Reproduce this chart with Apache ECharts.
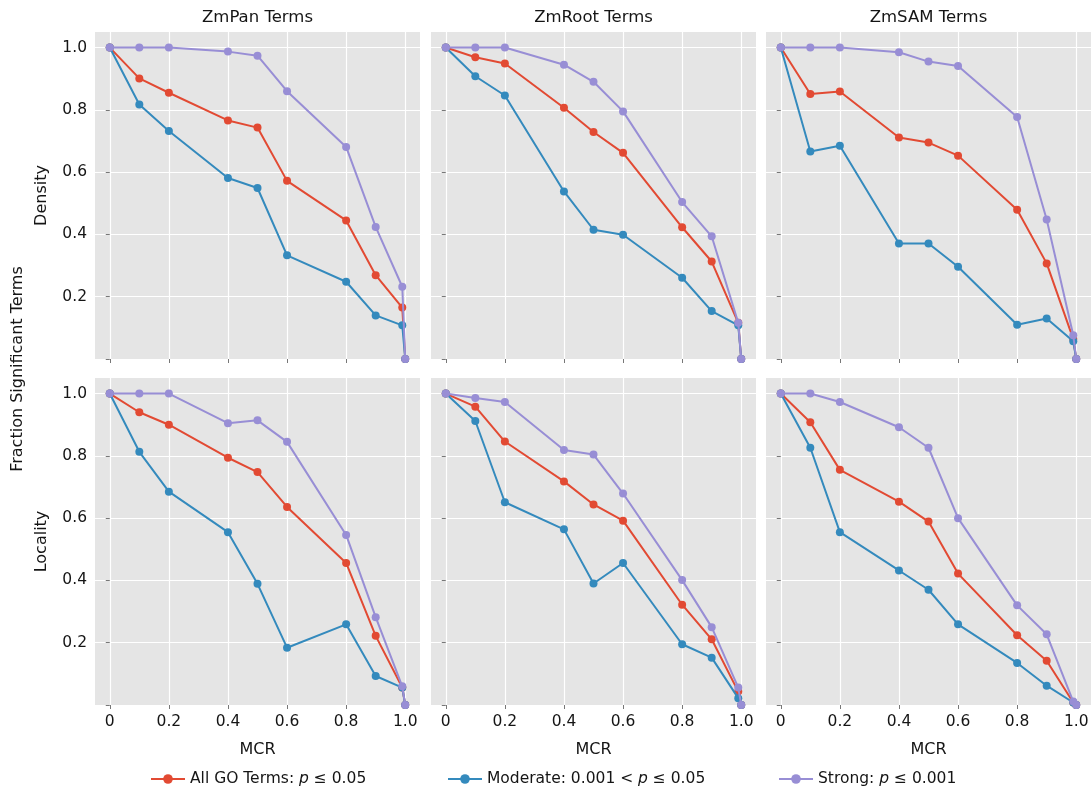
<!DOCTYPE html>
<html>
<head>
<meta charset="utf-8">
<title>Fraction Significant Terms vs MCR</title>
<script src="https://cdn.jsdelivr.net/npm/echarts@6/dist/echarts.min.js"></script>
<style>
  html, body { margin: 0; padding: 0; background: #fff; }
  #chart { width: 1092px; height: 788px; }
</style>
</head>
<body>
<div id="chart"></div>
<script>
// x values (MCR)
var mcr = [0, 0.1, 0.2, 0.4, 0.5, 0.6, 0.8, 0.9, 0.99, 1.0];
var xTicks = [0, 0.2, 0.4, 0.6, 0.8, 1.0];
var yTicks = [0, 0.2, 0.4, 0.6, 0.8, 1.0];

var columnTitles = ['ZmPan Terms', 'ZmRoot Terms', 'ZmSAM Terms'];
var rowTitles = ['Density', 'Locality'];
var seriesNames = ['All GO Terms', 'Moderate', 'Strong'];

// Density row
var panDensityAll      = [1.0, 0.901, 0.855, 0.766, 0.743, 0.572, 0.445, 0.269, 0.165, 0];
var panDensityModerate = [1.0, 0.817, 0.732, 0.581, 0.549, 0.333, 0.248, 0.140, 0.108, 0];
var panDensityStrong   = [1.0, 1.0, 1.0, 0.987, 0.974, 0.860, 0.681, 0.424, 0.232, 0];

var rootDensityAll      = [1.0, 0.969, 0.949, 0.807, 0.729, 0.662, 0.423, 0.313, 0.116, 0];
var rootDensityModerate = [1.0, 0.908, 0.846, 0.538, 0.415, 0.399, 0.261, 0.154, 0.108, 0];
var rootDensityStrong   = [1.0, 1.0, 1.0, 0.945, 0.890, 0.795, 0.504, 0.394, 0.116, 0];

var samDensityAll      = [1.0, 0.851, 0.859, 0.711, 0.695, 0.653, 0.479, 0.307, 0.064, 0];
var samDensityModerate = [1.0, 0.666, 0.685, 0.371, 0.371, 0.296, 0.110, 0.130, 0.057, 0];
var samDensityStrong   = [1.0, 1.0, 1.0, 0.985, 0.955, 0.941, 0.777, 0.448, 0.076, 0];

// Locality row
var panLocalityAll      = [1.0, 0.940, 0.900, 0.794, 0.748, 0.636, 0.456, 0.222, 0.056, 0];
var panLocalityModerate = [1.0, 0.813, 0.685, 0.555, 0.389, 0.184, 0.259, 0.093, 0.056, 0];
var panLocalityStrong   = [1.0, 1.0, 1.0, 0.905, 0.914, 0.845, 0.546, 0.282, 0.060, 0];

var rootLocalityAll      = [1.0, 0.958, 0.846, 0.718, 0.644, 0.592, 0.322, 0.211, 0.043, 0];
var rootLocalityModerate = [1.0, 0.912, 0.651, 0.564, 0.390, 0.456, 0.195, 0.152, 0.022, 0];
var rootLocalityStrong   = [1.0, 0.986, 0.973, 0.819, 0.804, 0.679, 0.401, 0.250, 0.056, 0];

var samLocalityAll      = [1.0, 0.908, 0.755, 0.653, 0.589, 0.422, 0.224, 0.142, 0.008, 0];
var samLocalityModerate = [1.0, 0.826, 0.555, 0.432, 0.370, 0.259, 0.135, 0.062, 0.008, 0];
var samLocalityStrong   = [1.0, 1.0, 0.973, 0.892, 0.826, 0.600, 0.320, 0.227, 0.011, 0];

// panel order: row by row, left to right; each = [all, moderate, strong]
var panels = [
	[panDensityAll, panDensityModerate, panDensityStrong],
	[rootDensityAll, rootDensityModerate, rootDensityStrong],
	[samDensityAll, samDensityModerate, samDensityStrong],
	[panLocalityAll, panLocalityModerate, panLocalityStrong],
	[rootLocalityAll, rootLocalityModerate, rootLocalityStrong],
	[samLocalityAll, samLocalityModerate, samLocalityStrong]
];

var colors = ['#E24A33', '#348ABD', '#988ED5'];
var fontFamily = 'DejaVu Sans';
var textColor = '#151515';

var chart = {
	init: function() {
		var myChart = echarts.init(document.getElementById('chart'), null, { renderer: 'canvas' });
		var lefts = [95, 431, 766];
		var tops = [32, 378];
		var w = 325, h = 327;
		var grids = [], xAxes = [], yAxes = [], series = [];

		for (var p = 0; p < 6; p++) {
			var row = Math.floor(p / 3), col = p % 3;
			grids.push({
				left: lefts[col], top: tops[row], width: w, height: h,
				show: true, backgroundColor: '#E5E5E5', borderWidth: 0,
				containLabel: false
			});
			xAxes.push({
				gridIndex: p, type: 'value', min: -0.05, max: 1.05,
				name: row === 1 ? 'MCR' : '',
				nameLocation: 'middle', nameGap: 37,
				nameTextStyle: { fontFamily: fontFamily, fontSize: 16, color: textColor },
				axisLine: { show: false },
				axisTick: { show: true, length: 4, lineStyle: { color: '#777', width: 1 }, customValues: xTicks },
				axisLabel: {
					show: row === 1, customValues: xTicks, margin: 9,
					fontFamily: fontFamily, fontSize: 15.5, color: textColor,
					formatter: function(v) { return v === 0 ? '0' : v.toFixed(1); }
				},
				splitLine: { show: true, lineStyle: { color: '#fff', width: 1.2 } }
			});
			yAxes.push({
				gridIndex: p, type: 'value', min: 0, max: 1.05,
				name: col === 0 ? rowTitles[row] : '',
				nameLocation: 'middle', nameGap: 45, nameRotate: 90,
				nameTextStyle: { fontFamily: fontFamily, fontSize: 16, color: textColor },
				axisLine: { show: false },
				axisTick: { show: true, length: 4, lineStyle: { color: '#777', width: 1 }, customValues: yTicks },
				axisLabel: {
					show: col === 0, customValues: [0.2, 0.4, 0.6, 0.8, 1.0], margin: 8,
					fontFamily: fontFamily, fontSize: 15.5, color: textColor,
					formatter: function(v) { return v.toFixed(1); }
				},
				splitLine: { show: true, lineStyle: { color: '#fff', width: 1.2 } }
			});
			for (var s = 0; s < 3; s++) {
				var vals = panels[p][s];
				var data = [];
				for (var i = 0; i < mcr.length; i++) {
					data.push([mcr[i], vals[i]]);
				}
				series.push({
					name: seriesNames[s],
					type: 'line',
					xAxisIndex: p, yAxisIndex: p,
					data: data,
					symbol: 'circle', symbolSize: 8,
					clip: true,
					itemStyle: { color: colors[s] },
					lineStyle: { color: colors[s], width: 2 },
					emphasis: { disabled: true },
					z: 2 + s
				});
			}
		}

		var graphics = [];
		for (var c = 0; c < 3; c++) {
			graphics.push({
				type: 'text', x: lefts[c] + w / 2, y: 18,
				style: { text: columnTitles[c], fontFamily: fontFamily, fontSize: 16.5, fill: textColor,
					textAlign: 'center', textVerticalAlign: 'middle' }
			});
		}
		graphics.push({
			type: 'text', x: 18, y: 369, rotation: Math.PI / 2,
			style: { text: 'Fraction Significant Terms', fontFamily: fontFamily, fontSize: 16, fill: textColor,
				textAlign: 'center', textVerticalAlign: 'middle' }
		});

		var legendRich = {
			a: { fontFamily: fontFamily, fontSize: 15.5, color: textColor },
			i: { fontFamily: fontFamily, fontSize: 15.5, color: textColor, fontStyle: 'italic' }
		};
		var legendLabels = {
			'All GO Terms': '{a|All GO Terms: }{i|p}{a| ≤ 0.05}',
			'Moderate': '{a|Moderate: 0.001 < }{i|p}{a| ≤ 0.05}',
			'Strong': '{a|Strong: }{i|p}{a| ≤ 0.001}'
		};
		var legendLefts = [150, 447, 778];
		var legends = [];
		for (var k = 0; k < 3; k++) {
			legends.push({
				data: [seriesNames[k]],
				left: legendLefts[k], top: 771, padding: 0,
				itemWidth: 34, itemHeight: 12, itemGap: 8,
				selectedMode: false,
				formatter: function(name) { return legendLabels[name]; },
				textStyle: { rich: legendRich }
			});
		}

		var option = {
			animation: false,
			backgroundColor: '#fff',
			grid: grids,
			xAxis: xAxes,
			yAxis: yAxes,
			legend: legends,
			graphic: graphics,
			series: series
		};
		myChart.setOption(option);
	}
};

chart.init();
</script>
</body>
</html>
